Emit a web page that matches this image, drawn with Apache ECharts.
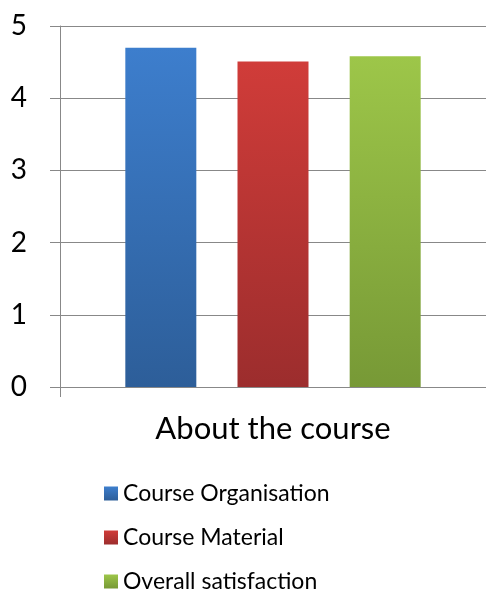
<!DOCTYPE html>
<html>
<head>
<meta charset="utf-8">
<script src="https://cdn.jsdelivr.net/npm/echarts@6/dist/echarts.min.js"></script>
<style>
  html, body { margin: 0; padding: 0; background: #fff; }
  #chart { width: 486px; height: 594px; }
</style>
</head>
<body>
<div id="chart"></div>
<script>
  // 数据
  var categories = ['About the course'];
  var seriesNames = ['Course Organisation', 'Course Material', 'Overall satisfaction'];
  var organisation = [4.70];
  var material = [4.51];
  var satisfaction = [4.58];
  var yTicks = [0, 1, 2, 3, 4, 5];

  // 渐变色
  function grad(top, bottom) {
    return new echarts.graphic.LinearGradient(0, 0, 0, 1, [
      { offset: 0, color: top },
      { offset: 1, color: bottom }
    ]);
  }

  var myChart = echarts.init(document.getElementById('chart'));
  var font = 'Lato, "Open Sans", sans-serif';
  var option = {
    animation: false,
    textStyle: { fontFamily: font },
    grid: { left: 60, right: -4, top: 26, bottom: 207 },
    legend: {
      orient: 'vertical',
      left: 99,
      top: 477,
      height: 117,
      itemWidth: 14,
      itemHeight: 14,
      itemGap: 21,
      icon: 'rect',
      textStyle: { fontSize: 23, lineHeight: 23, color: '#000', fontFamily: font },
      data: seriesNames
    },
    xAxis: {
      type: 'category',
      data: categories,
      axisLine: { lineStyle: { color: '#888' } },
      axisTick: { show: true, length: 10, lineStyle: { color: '#888' } },
      axisLabel: { fontSize: 31, color: '#000', margin: 26, fontFamily: font }
    },
    yAxis: {
      type: 'value',
      min: yTicks[0],
      max: yTicks[yTicks.length - 1],
      interval: 1,
      axisLine: { show: true, lineStyle: { color: '#888' } },
      axisTick: { show: true, length: 10, lineStyle: { color: '#888' } },
      splitLine: { lineStyle: { color: '#888' } },
      axisLabel: { fontSize: 28, color: '#000', margin: 33, fontFamily: font }
    },
    series: [
      {
        name: seriesNames[0],
        type: 'bar',
        barWidth: 71,
        barGap: '58%',
        data: organisation,
        itemStyle: { color: grad('#3d7ecd', '#2d5e99') }
      },
      {
        name: seriesNames[1],
        type: 'bar',
        barWidth: 71,
        barGap: '58%',
        data: material,
        itemStyle: { color: grad('#d03c39', '#9c2d2d') }
      },
      {
        name: seriesNames[2],
        type: 'bar',
        barWidth: 71,
        barGap: '58%',
        data: satisfaction,
        itemStyle: { color: grad('#9dc649', '#779936') }
      }
    ]
  };
  myChart.setOption(option);
</script>
</body>
</html>
